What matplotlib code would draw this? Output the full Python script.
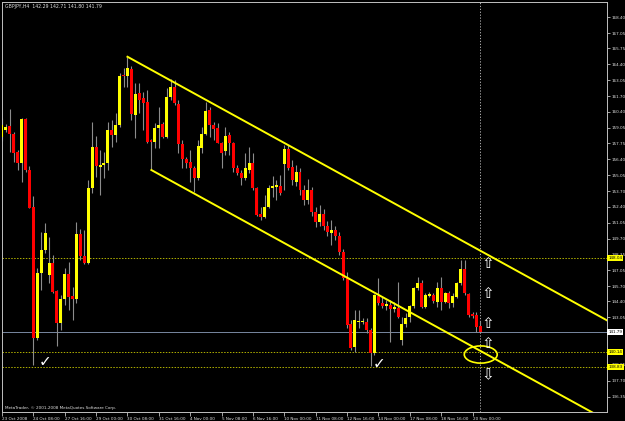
import matplotlib
matplotlib.use('Agg')
import matplotlib.pyplot as plt
import matplotlib.transforms as mtransforms
from matplotlib.patches import Ellipse

# GBPJPY H4 candles, bar 0 = 23 Oct 2008 00:00
opens = [158.30, 158.87, 159.21, 158.53, 156.98, 156.06, 159.80, 155.49, 152.34, 141.29,
         146.77, 148.74, 146.63, 147.62, 145.31, 142.55, 144.61, 146.72, 144.86, 144.61,
         150.12, 148.23, 147.64, 153.95, 157.41, 155.77, 155.91, 156.06, 158.87, 158.45,
         159.29, 163.51, 163.43, 164.00, 160.14, 161.97, 161.54, 161.26, 158.03, 157.89,
         159.01, 159.37, 158.25, 161.63, 162.47, 161.06, 157.69, 156.40, 156.19, 155.69,
         154.79, 157.38, 158.53, 160.56, 159.29, 159.01, 157.80, 157.07, 158.45, 157.80,
         155.69, 155.26, 154.79, 155.49, 156.06, 154.00, 151.78, 151.50, 152.34, 154.00,
         154.10, 154.17, 156.00, 157.24, 155.75, 154.48, 155.32, 153.80, 152.96, 153.80,
         151.95, 151.10, 151.78, 150.77, 150.18, 150.43, 149.92, 148.57, 146.38, 142.50,
         140.55, 142.66, 142.69, 142.69, 141.99, 140.02, 144.86, 144.29, 144.01, 144.10,
         143.74, 143.82, 141.15, 142.50, 143.06, 144.01, 145.51, 145.98, 143.96, 144.88,
         144.94, 144.38, 145.51, 144.38, 145.14, 144.29, 144.80, 145.93, 147.11, 145.03,
         143.34, 143.26, 142.29]
highs = [159.85, 159.40, 160.62, 158.73, 157.18, 159.86, 159.86, 155.80, 153.30, 147.20,
         150.29, 151.00, 149.87, 148.32, 145.36, 144.95, 147.20, 147.76, 145.65, 151.13,
         150.55, 150.39, 154.65, 159.57, 158.40, 157.18, 157.00, 159.57, 159.71, 160.27,
         163.65, 164.08, 165.05, 164.27, 162.81, 162.81, 162.10, 162.24, 158.10, 159.43,
         160.84, 159.57, 162.38, 163.14, 163.09, 161.40, 158.03, 156.60, 157.18, 155.83,
         158.03, 159.15, 161.26, 160.84, 159.57, 159.43, 157.89, 159.15, 158.73, 157.89,
         155.90, 155.49, 156.90, 157.46, 156.90, 154.08, 152.40, 153.37, 154.23, 155.00,
         154.65, 155.07, 157.60, 157.60, 156.34, 155.91, 155.70, 154.20, 154.74, 154.10,
         152.40, 152.50, 152.20, 151.20, 151.30, 150.80, 150.30, 148.80, 146.88, 142.80,
         143.68, 143.68, 143.00, 143.00, 142.20, 145.00, 146.35, 144.80, 144.52, 144.52,
         144.38, 146.07, 143.11, 143.40, 144.10, 145.64, 146.49, 146.21, 145.09, 145.22,
         145.09, 146.07, 146.49, 145.22, 145.30, 145.09, 146.07, 147.90, 147.90, 145.09,
         143.53, 143.53, 142.71]
lows = [157.96, 158.70, 157.04, 156.19, 155.49, 154.51, 155.35, 152.26, 139.03, 141.15,
        145.36, 148.46, 145.93, 145.08, 140.64, 141.96, 144.10, 143.68, 142.83, 144.24,
        147.90, 147.60, 147.60, 153.53, 154.90, 153.37, 154.80, 155.49, 157.46, 157.89,
        159.15, 162.53, 162.53, 159.71, 158.17, 160.28, 158.87, 157.75, 155.49, 157.32,
        157.32, 158.17, 158.17, 161.40, 160.98, 156.91, 155.63, 155.63, 154.51, 153.66,
        154.65, 156.91, 158.45, 158.31, 158.03, 157.75, 155.63, 156.76, 156.76, 155.35,
        155.07, 154.23, 154.65, 155.21, 153.80, 151.64, 151.27, 151.41, 152.26, 153.20,
        152.96, 153.37, 153.80, 155.49, 154.23, 154.14, 153.37, 152.54, 152.60, 151.60,
        150.70, 150.80, 150.40, 149.90, 149.16, 149.60, 148.30, 146.20, 142.16, 140.30,
        140.13, 142.20, 142.50, 141.73, 138.95, 139.84, 144.10, 143.85, 143.68, 141.00,
        143.53, 142.98, 140.72, 142.27, 142.69, 143.82, 145.36, 143.82, 143.82, 144.80,
        144.24, 143.96, 143.68, 144.24, 143.82, 143.96, 144.66, 145.79, 144.94, 143.11,
        142.98, 141.84, 141.80]
closes = [159.30, 159.15, 158.53, 156.90, 156.06, 159.80, 155.49, 152.31, 141.29, 146.77,
          148.74, 150.15, 147.62, 145.22, 142.55, 144.61, 146.72, 144.80, 144.63, 150.06,
          148.23, 147.64, 153.95, 157.41, 155.83, 155.91, 156.11, 158.87, 158.45, 159.29,
          163.45, 163.43, 164.08, 160.22, 161.91, 161.40, 161.12, 157.89, 157.89, 159.01,
          159.29, 158.25, 161.63, 162.52, 161.12, 157.69, 156.40, 156.11, 155.63, 154.79,
          157.52, 158.53, 160.50, 159.29, 158.93, 157.80, 156.95, 158.36, 157.80, 155.69,
          155.21, 154.79, 155.63, 156.06, 154.00, 151.70, 151.50, 152.34, 154.00, 154.14,
          154.23, 153.58, 157.24, 155.69, 154.65, 155.32, 153.80, 152.96, 153.80, 151.95,
          151.10, 151.78, 150.77, 150.26, 150.43, 149.92, 148.57, 146.38, 142.41, 140.47,
          142.83, 142.77, 142.71, 141.99, 140.02, 144.94, 144.24, 144.01, 144.18, 143.74,
          143.91, 143.06, 142.50, 142.98, 144.01, 145.51, 145.98, 143.96, 144.94, 145.00,
          144.46, 145.51, 144.38, 145.14, 144.29, 144.86, 145.93, 147.11, 145.09, 143.26,
          143.17, 142.27, 141.79]

date_labels = ['23 Oct 2008', '24 Oct 08:00', '27 Oct 16:00', '29 Oct 00:00', '30 Oct 08:00',
               '31 Oct 16:00', '4 Nov 00:00', '5 Nov 08:00', '6 Nov 16:00', '10 Nov 00:00',
               '11 Nov 08:00', '12 Nov 16:00', '14 Nov 00:00', '17 Nov 08:00', '18 Nov 16:00',
               '20 Nov 00:00']
# 141.70 and 140.40 sit under the price tags, so they show no text
price_ticks = ['168.40', '167.05', '165.75', '164.40', '163.05', '161.70', '160.40', '159.05',
               '157.75', '156.40', '155.05', '153.70', '152.40', '151.05', '149.70', '148.35',
               '147.05', '145.70', '144.40', '143.05', '141.70', '140.40', '139.05', '137.70',
               '136.35']
hidden_ticks = ['141.70', '140.40']

title = 'GBPJPY,H4  142.29 142.71 141.80 141.79'
levels = [148.04, 140.14, 138.83]
bid = 141.79

# equidistant channel: start points (bar, price) and slope in price per bar
upper_start = (32, 165.05)
lower_start = (38.1, 155.49)
slope = -0.1819

arrow_bar = 124
up_arrows = [147.56, 145.07, 142.58, 140.81]
down_arrows = [138.19]
checks = [(10.9, 139.32), (96.3, 139.15)]
circle_center = (122.1, 139.92)

small_size = 3.0
grey_txt = '#e0e0e0'

fig = plt.figure(figsize=(6.25, 4.21), dpi=100, facecolor='black')
ax = fig.add_axes([2 / 625, 9 / 421, 605 / 625, 410 / 421])
ax.set_facecolor('black')
ax.set_xlim(0.1, 154.3)
ax.set_ylim(135.07, 169.67)

# candles
x = list(range(len(opens)))
bottoms, heights, colors = [], [], []
for o, c in zip(opens, closes):
    bottoms.append(min(o, c))
    heights.append(max(abs(c - o), 0.06))
    colors.append('#ffff00' if c >= o else '#ff0000')
ax.vlines(x, lows, highs, color='#8c8c8c', lw=0.8, zorder=2)
ax.bar(x, heights, bottom=bottoms, width=0.76, color=colors, linewidth=0, zorder=3)

# levels
for lv in levels:
    ax.axhline(lv, color='#b0b000', lw=0.7, ls=(0, (1.5, 1.5)), zorder=1)
ax.axhline(bid, color='#7888a0', lw=0.7, zorder=1)
ax.axvline(x[-1], color='#c8c8c8', lw=0.6, ls=(0, (1.5, 2)), zorder=1)

# channel
x_end = ax.get_xlim()[1]
for x0, y0 in [upper_start, lower_start]:
    ax.plot([x0, x_end], [y0, y0 + slope * (x_end - x0)], color='#ffff00', lw=1.4, zorder=4)

ax.add_patch(Ellipse(circle_center, width=8.4, height=1.45, fill=False,
                     ec='#ffff00', lw=1.2, zorder=5))

for y in up_arrows:
    ax.text(arrow_bar, y, '\u21e7', color='white', fontsize=11, ha='center', va='center', zorder=6)
for y in down_arrows:
    ax.text(arrow_bar, y, '\u21e9', color='white', fontsize=11, ha='center', va='center', zorder=6)
for cx, cy in checks:
    ax.text(cx, cy, '\u2713', color='white', fontsize=11, ha='center', va='center', zorder=6)

# axes styling
for sp in ax.spines.values():
    sp.set_color('#c0c0c0')
    sp.set_linewidth(0.7)
ax.yaxis.tick_right()
ax.set_yticks([float(t) for t in price_ticks])
ax.set_yticklabels(['' if t in hidden_ticks else t for t in price_ticks], fontsize=small_size)
ax.set_xticks(range(0, 8 * len(date_labels), 8))
ax.set_xticklabels(date_labels, fontsize=small_size, ha='left')
ax.tick_params(axis='y', colors='#c0c0c0', length=2, width=0.6, pad=1)
ax.tick_params(axis='x', colors='#c0c0c0', length=3, width=0.6, pad=0.5)
for lbl in ax.get_yticklabels() + ax.get_xticklabels():
    lbl.set_color(grey_txt)

# price tags on the right scale
tag = mtransforms.blended_transform_factory(ax.transAxes, ax.transData)
for lv in levels:
    ax.text(1.002, lv, f'{lv:.2f}', transform=tag, ha='left', va='center', fontsize=small_size,
            color='black', clip_on=False, zorder=7,
            bbox=dict(boxstyle='square,pad=0.25', fc='#ffff00', ec='none'))
ax.text(1.002, bid, f'{bid:.2f}', transform=tag, ha='left', va='center', fontsize=small_size,
        color='black', clip_on=False, zorder=7,
        bbox=dict(boxstyle='square,pad=0.25', fc='white', ec='none'))

ax.text(0.005, 0.994, title, transform=ax.transAxes, ha='left', va='top',
        fontsize=small_size + 0.3, color=grey_txt)
ax.text(0.005, 0.004, 'MetaTrader, \u00a9 2001-2008 MetaQuotes Software Corp.', transform=ax.transAxes,
        ha='left', va='bottom', fontsize=small_size, color=grey_txt)

fig.savefig('out.png', dpi=100, facecolor='black')
